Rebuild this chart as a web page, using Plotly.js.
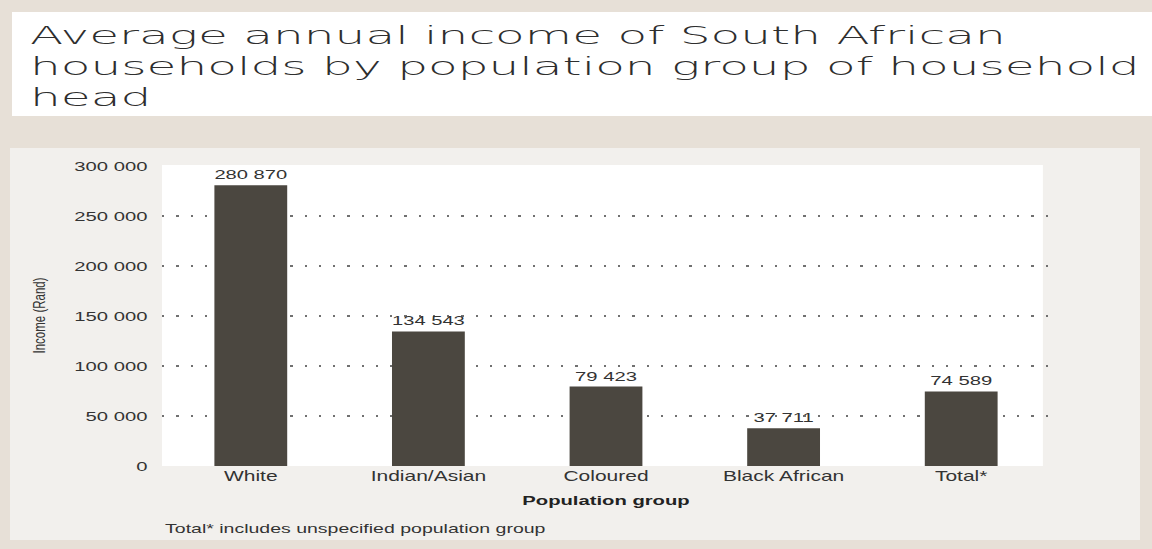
<!DOCTYPE html>
<html>
<head>
<meta charset="utf-8">
<script src="https://cdn.plot.ly/plotly-3.0.1.min.js"></script>
<style>
  html, body { margin:0; padding:0; width:1152px; height:549px; overflow:hidden; background:#e7e0d7; }
  #band { position:absolute; left:12px; top:12px; width:1140px; height:104px; background:#ffffff; }
  #panel { position:absolute; left:10px; top:148px; width:1130px; height:392px; background:#f2f0ed; }
  #chart { position:absolute; left:0; top:0; width:768px; height:549px; transform:scaleX(1.5); transform-origin:0 0; }
</style>
</head>
<body>
<div id="band"></div>
<div id="panel"></div>
<div id="chart"></div>
<script>
// ---- data ----
const categories = ['White', 'Indian/Asian', 'Coloured', 'Black African', 'Total*'];
const income = [280870, 134543, 79423, 37711, 74589];
const yTickVals = [0, 50000, 100000, 150000, 200000, 250000, 300000];
const gridVals = [50000, 100000, 150000, 200000, 250000];

const titleText = 'Average annual income of South African<br>households by population group of household<br>head';
const yTitle = 'Income (Rand)';
const xTitle = 'Population group';
const footnote = 'Total* includes unspecified population group';

const txt = '#333333';
const sans = 'Liberation Sans, Arial, sans-serif';

const traces = [
  {
    type: 'bar',
    x: categories,
    y: income,
    marker: { color: '#4b4740', line: { width: 0 } },
    texttemplate: '%{y:,}',
    textposition: 'outside',
    cliponaxis: false,
    textfont: { family: sans, size: 13.5, color: txt },
    hoverinfo: 'x+y',
    showlegend: false
  },
  {
    type: 'scatter', mode: 'markers',
    x: [], y: [], yaxis: 'y2',
    hoverinfo: 'skip', showlegend: false
  }
];

const layout = {
  width: 768, height: 549, autosize: false,
  margin: { l: 108, r: 68, t: 165, b: 83, pad: 0 },
  paper_bgcolor: 'rgba(0,0,0,0)',
  plot_bgcolor: 'rgba(0,0,0,0)',
  separators: '. ',
  bargap: 0.59,
  title: {
    text: titleText,
    x: 20 / 768, xref: 'container', xanchor: 'left',
    y: 1 - 44 / 549, yref: 'container', yanchor: 'top',
    font: { family: 'DejaVu Sans, sans-serif', size: 24, color: '#2e2e2e', weight: 300 }
  },
  xaxis: {
    type: 'category',
    range: [-0.5, 4.5],
    showgrid: false, zeroline: false, showline: false, ticks: '',
    tickfont: { family: sans, size: 14, color: txt },
    title: { text: xTitle, standoff: 12, font: { family: sans, size: 13.5, color: '#222', weight: 'bold' } },
    fixedrange: true
  },
  yaxis: {
    range: [0, 301000],
    tickvals: yTickVals,
    tickformat: ',',
    showgrid: false, zeroline: false, showline: false,
    ticks: 'outside', ticklen: 6, tickcolor: 'rgba(0,0,0,0)',
    tickfont: { family: sans, size: 13.5, color: txt },
    title: { text: yTitle, standoff: 16, font: { family: sans, size: 11.5, color: txt } },
    fixedrange: true
  },
  yaxis2: {
    overlaying: 'y', anchor: 'x',
    range: [0, 301000],
    tickvals: gridVals,
    showticklabels: false, ticks: '',
    showgrid: true, gridcolor: '#707070', gridwidth: 1.5, griddash: '1.5px,8px',
    zeroline: false, showline: false,
    fixedrange: true
  },
  shapes: [
    { type: 'rect', xref: 'paper', yref: 'paper', x0: 0, x1: 0.992, y0: 0, y1: 1,
      fillcolor: '#ffffff', line: { width: 0 }, layer: 'below' }
  ],
  annotations: [
    { text: footnote, xref: 'paper', yref: 'paper', x: 0, y: -0.206,
      xanchor: 'left', yanchor: 'middle', showarrow: false,
      font: { family: sans, size: 13, color: txt } }
  ]
};

Plotly.newPlot('chart', traces, layout, { displayModeBar: false, staticPlot: true, responsive: false }).then(function () {
  // the reference title uses a very extended typeface: widen it horizontally
  const t = document.querySelector('.gtitle');
  if (t) {
    const k = 1.35;
    const x = parseFloat(t.getAttribute('x')) || 0;
    const prev = t.getAttribute('transform') || '';
    t.setAttribute('transform', prev + ' translate(' + (x * (1 - k)) + ',0) scale(' + k + ',1)');
  }
});
</script>
</body>
</html>
